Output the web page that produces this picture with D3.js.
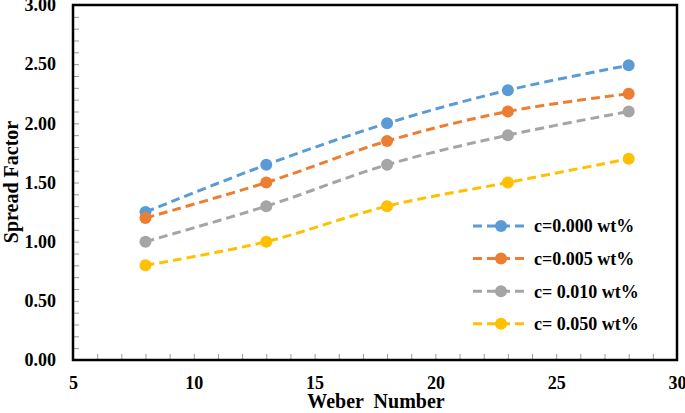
<!DOCTYPE html>
<html>
<head>
<meta charset="utf-8">
<script src="https://cdn.jsdelivr.net/npm/d3@7"></script>
<style>
  body { margin: 0; background: #fff; }
  text { font-family: "Liberation Serif", "Times New Roman", serif; font-weight: bold; fill: #000; }
</style>
</head>
<body>
<svg id="chart" width="685" height="413"></svg>
<script>
// data
const weber = [8, 13, 18, 23, 28];
const seriesNames = ["c=0.000 wt%", "c=0.005 wt%", "c= 0.010 wt%", "c= 0.050 wt%"];
const spread000 = [1.25, 1.65, 2.00, 2.28, 2.49];
const spread005 = [1.20, 1.50, 1.85, 2.10, 2.25];
const spread010 = [1.00, 1.30, 1.65, 1.90, 2.10];
const spread050 = [0.80, 1.00, 1.30, 1.50, 1.70];
const xTicks = [5, 10, 15, 20, 25, 30];
const yTicks = [0, 0.5, 1, 1.5, 2, 2.5, 3];

const colors = ["#5B9BD5", "#ED7D31", "#A5A5A5", "#FFC000"];
const allSeries = [spread000, spread005, spread010, spread050];

const svg = d3.select("#chart");
const mLeft = 73, mRight = 677, mTop = 5, mBottom = 360;

const x = d3.scaleLinear().domain([5, 30]).range([mLeft, mRight]);
const y = d3.scaleLinear().domain([0, 3]).range([mBottom, mTop]);

// minor ticks (inside)
svg.append("g")
    .attr("transform", `translate(0,${mBottom})`)
    .call(d3.axisBottom(x).ticks(25).tickSize(-6).tickFormat(""))
    .call(g => g.select(".domain").remove())
    .call(g => g.selectAll("line").attr("stroke", "#999"));

svg.append("g")
    .attr("transform", `translate(${mLeft},0)`)
    .call(d3.axisLeft(y).ticks(30).tickSize(-6).tickFormat(""))
    .call(g => g.select(".domain").remove())
    .call(g => g.selectAll("line").attr("stroke", "#999"));

// tick labels
svg.append("g")
    .attr("transform", `translate(0,${mBottom})`)
    .call(d3.axisBottom(x).tickValues(xTicks).tickSize(0).tickPadding(16).tickFormat(d3.format("d")))
    .call(g => g.select(".domain").remove())
    .call(g => g.selectAll("text").style("font-size", "18px").style("font-family", "Liberation Serif"));

svg.append("g")
    .attr("transform", `translate(${mLeft},0)`)
    .call(d3.axisLeft(y).tickValues(yTicks).tickSize(0).tickPadding(17).tickFormat(d3.format(".2f")))
    .call(g => g.select(".domain").remove())
    .call(g => g.selectAll("text").style("font-size", "18px").style("font-family", "Liberation Serif"));

// frame
svg.append("rect")
    .attr("x", mLeft).attr("y", mTop)
    .attr("width", mRight - mLeft).attr("height", mBottom - mTop)
    .attr("fill", "none").attr("stroke", "#000").attr("stroke-width", 2.5);

// lines and markers
const line = d3.line()
    .x((d, i) => x(weber[i]))
    .y(d => y(d))
    .curve(d3.curveCatmullRom.alpha(0));

allSeries.forEach((vals, k) => {
    svg.append("path")
        .datum(vals)
        .attr("d", line)
        .attr("fill", "none")
        .attr("stroke", colors[k])
        .attr("stroke-width", 3)
        .attr("stroke-dasharray", "9,5");

    svg.selectAll(null)
        .data(vals)
        .join("circle")
        .attr("cx", (d, i) => x(weber[i]))
        .attr("cy", d => y(d))
        .attr("r", 6)
        .attr("fill", colors[k]);
});

// legend
const legend = svg.append("g");
const legendItems = legend.selectAll("g")
    .data(seriesNames)
    .join("g")
    .attr("transform", (d, i) => `translate(473,${226 + i * 32.6})`);

legendItems.append("line")
    .attr("x1", 0).attr("x2", 55)
    .attr("stroke", (d, i) => colors[i])
    .attr("stroke-width", 3)
    .attr("stroke-dasharray", "9,5");

legendItems.append("circle")
    .attr("cx", 28).attr("r", 6)
    .attr("fill", (d, i) => colors[i]);

legendItems.append("text")
    .attr("x", 61).attr("dy", "0.35em")
    .style("font-size", "18px")
    .text(d => d);

// axis titles
svg.append("text")
    .attr("x", 376).attr("y", 408)
    .attr("text-anchor", "middle")
    .style("font-size", "20px")
    .attr("xml:space", "preserve")
    .text("Weber  Number");

svg.append("text")
    .attr("transform", `translate(18,182) rotate(-90)`)
    .attr("text-anchor", "middle")
    .style("font-size", "20px")
    .text("Spread Factor");
</script>
</body>
</html>
